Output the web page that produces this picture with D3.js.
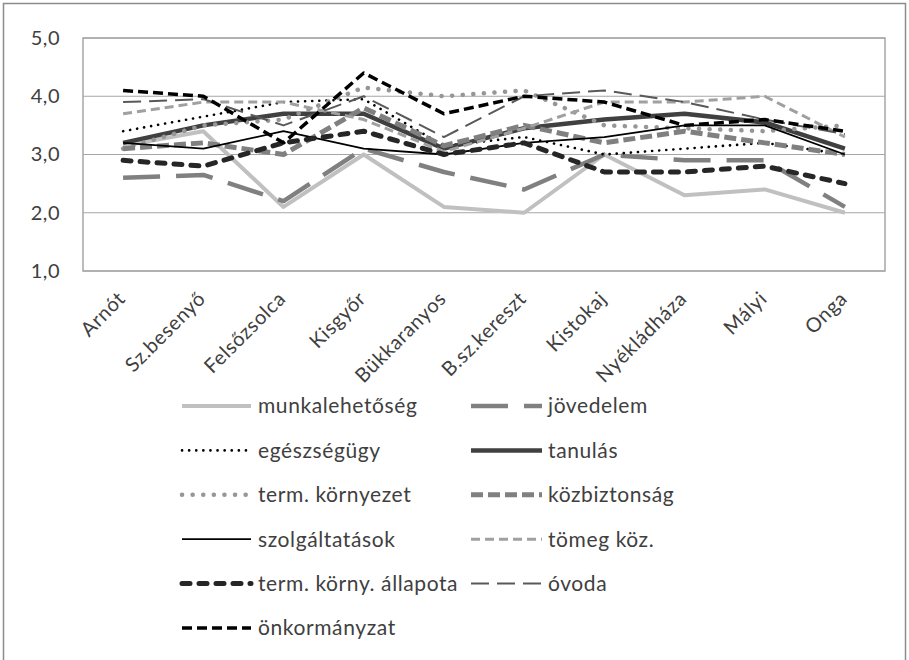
<!DOCTYPE html>
<html>
<head>
<meta charset="utf-8">
<script src="https://cdn.jsdelivr.net/npm/d3@7"></script>
<style>
  html, body { margin: 0; padding: 0; background: #fff; }
  svg { display: block; }
  text { font-family: Lato, "Open Sans", sans-serif; fill: #404040; }
</style>
</head>
<body>
<svg id="chart" width="909" height="660"></svg>
<script>
// ---- data ----
const categories = ["Arnót","Sz.besenyő","Felsőzsolca","Kisgyőr","Bükkaranyos","B.sz.kereszt","Kistokaj","Nyékládháza","Mályi","Onga"];
const yTicks = [1, 2, 3, 4, 5];

const munkalehetoseg    = [3.15, 3.4, 2.1, 3.0, 2.1, 2.0, 3.0, 2.3, 2.4, 2.0];
const jovedelem         = [2.6, 2.65, 2.2, 3.1, 2.7, 2.4, 3.0, 2.9, 2.9, 2.1];
const egeszsegugy       = [3.4, 3.65, 3.9, 3.95, 3.15, 3.3, 3.0, 3.1, 3.2, 3.0];
const tanulas           = [3.2, 3.5, 3.7, 3.7, 3.1, 3.45, 3.6, 3.7, 3.55, 3.1];
const termKornyezet     = [3.1, 3.5, 3.6, 4.15, 4.0, 4.1, 3.5, 3.45, 3.4, 3.5];
const kozbiztonsag      = [3.1, 3.2, 3.0, 3.8, 3.15, 3.5, 3.2, 3.4, 3.2, 3.0];
const szolgaltatasok    = [3.2, 3.1, 3.4, 3.1, 3.0, 3.2, 3.3, 3.5, 3.5, 3.0];
const tomegKoz          = [3.7, 3.9, 3.9, 3.6, 3.05, 3.45, 3.9, 3.9, 4.0, 3.3];
const termKornyAllapota = [2.9, 2.8, 3.2, 3.4, 3.0, 3.2, 2.7, 2.7, 2.8, 2.5];
const ovoda             = [3.9, 3.95, 3.5, 4.0, 3.3, 4.0, 4.1, 3.9, 3.6, 3.35];
const onkormanyzat      = [4.1, 4.0, 3.2, 4.4, 3.7, 4.0, 3.9, 3.5, 3.6, 3.4];

const seriesNames = ["munkalehetőség","jövedelem","egészségügy","tanulás","term. környezet","közbiztonság","szolgáltatások","tömeg köz.","term. körny. állapota","óvoda","önkormányzat"];
const seriesValues = [munkalehetoseg, jovedelem, egeszsegugy, tanulas, termKornyezet, kozbiztonsag, szolgaltatasok, tomegKoz, termKornyAllapota, ovoda, onkormanyzat];

// ---- styles ----
const styles = [
  {color:"#c0c0c0", width:4,   dash:null,     cap:"butt"},
  {color:"#808080", width:4.5, dash:"37,16",  cap:"butt"},
  {color:"#000000", width:2.6, dash:"0.1,7",  cap:"round"},
  {color:"#404040", width:4.5, dash:null,     cap:"butt"},
  {color:"#969696", width:4.5, dash:"0.1,10.5", cap:"round"},
  {color:"#808080", width:5,   dash:"12,5",   cap:"butt"},
  {color:"#000000", width:1.8, dash:null,     cap:"butt"},
  {color:"#a0a0a0", width:3,   dash:"9,5",    cap:"butt"},
  {color:"#262626", width:5,   dash:"8,9",    cap:"round"},
  {color:"#595959", width:2,   dash:"18,8",   cap:"butt"},
  {color:"#000000", width:3.5, dash:"10,5",   cap:"butt"}
];

const svg = d3.select("#chart");
svg.append("rect").attr("x",0).attr("y",0).attr("width",909).attr("height",660).attr("fill","#fff");
svg.append("rect").attr("x",3.5).attr("y",3.5).attr("width",902).attr("height",660)
  .attr("fill","none").attr("stroke","#8c8c8c").attr("stroke-width",1.5);

const plot = {left:83, right:885, top:38, bottom:271};

const x = d3.scalePoint().domain(categories).range([plot.left, plot.right]).padding(0.5);
const y = d3.scaleLinear().domain([1,5]).range([plot.bottom, plot.top]);

// gridlines
svg.append("g").selectAll("line").data(yTicks).join("line")
  .attr("x1",plot.left).attr("x2",plot.right)
  .attr("y1",d=>y(d)).attr("y2",d=>y(d))
  .attr("stroke","#a6a6a6").attr("stroke-width",1.2);

// plot border
svg.append("rect").attr("x",plot.left).attr("y",plot.top)
  .attr("width",plot.right-plot.left).attr("height",plot.bottom-plot.top)
  .attr("fill","none").attr("stroke","#a6a6a6").attr("stroke-width",1.5);

// y axis
const fmt = d => d3.format(".1f")(d).replace(".", ",");
const yAxis = svg.append("g").attr("transform",`translate(${plot.left},0)`)
  .call(d3.axisLeft(y).tickValues(yTicks).tickFormat(fmt).tickSize(0).tickPadding(23));
yAxis.select(".domain").remove();
yAxis.selectAll("text").style("font-size","20px").style("font-family","Lato, sans-serif")
  .style("letter-spacing","0.5px").attr("fill","#404040");

// x axis labels
const xAxis = svg.append("g").attr("transform",`translate(0,${plot.bottom})`)
  .call(d3.axisBottom(x).tickSize(0).tickFormat(d=>d));
xAxis.select(".domain").remove();
xAxis.selectAll("text")
  .style("font-size","20px").style("font-family","Lato, sans-serif").style("letter-spacing","0.6px")
  .attr("fill","#404040")
  .attr("text-anchor","end")
  .attr("dy",null).attr("y",0)
  .attr("transform", "translate(3,29) rotate(-45)");

// lines
const line = d3.line().x((d,i)=>x(categories[i])).y(d=>y(d));
const linesG = svg.append("g");
seriesValues.forEach((vals, k) => {
  const s = styles[k];
  linesG.append("path").datum(vals)
    .attr("d", line)
    .attr("fill","none")
    .attr("stroke", s.color)
    .attr("stroke-width", s.width)
    .attr("stroke-linecap", s.cap)
    .attr("stroke-linejoin","round")
    .attr("stroke-dasharray", s.dash);
});

// legend
const legendCols = [{lineX1:182, lineX2:251, textX:258}, {lineX1:471, lineX2:542, textX:548}];
const legendRow0 = 406, legendStep = 44.4;
const legend = svg.append("g");
seriesNames.forEach((name, k) => {
  const col = legendCols[k % 2];
  const row = Math.floor(k / 2);
  const yy = legendRow0 + row * legendStep;
  const s = styles[k];
  legend.append("path")
    .attr("d", d3.line()([[col.lineX1, yy],[col.lineX2, yy]]))
    .attr("fill","none")
    .attr("stroke", s.color)
    .attr("stroke-width", s.width)
    .attr("stroke-linecap", s.cap)
    .attr("stroke-dasharray", s.dash);
  legend.append("text")
    .attr("x", col.textX).attr("y", yy)
    .attr("dy","0.35em")
    .style("font-size","21px")
    .style("letter-spacing","0.6px")
    .text(name);
});
</script>
</body>
</html>
